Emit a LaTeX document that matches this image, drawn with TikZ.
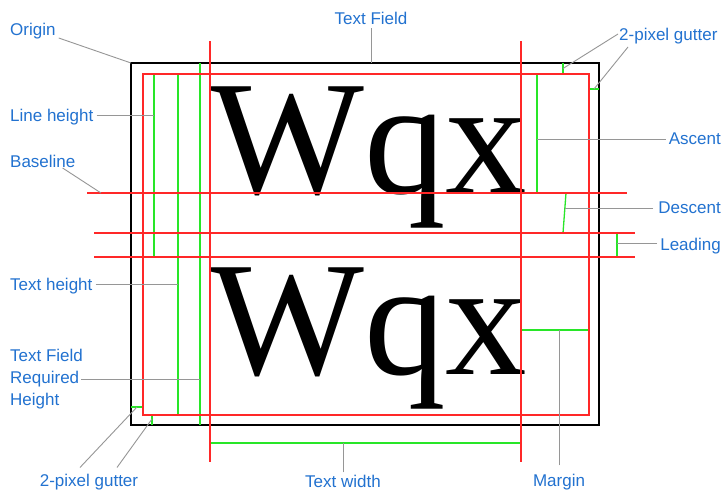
\documentclass[tikz,border=0pt]{standalone}
\usepackage{fontspec}
\setmainfont{Liberation Sans}
\newfontfamily\glyphfont{Liberation Serif}
\definecolor{labelblue}{RGB}{34,114,208}
\definecolor{guidered}{RGB}{255,40,40}
\definecolor{guidegreen}{RGB}{40,230,40}
\definecolor{leadergray}{RGB}{150,150,150}

\begin{document}
\begin{tikzpicture}[x=1pt,y=-1pt,
    lbl/.style={font=\fontsize{17}{22}\selectfont,text=labelblue,inner sep=0pt},
    glyphs/.style={font=\glyphfont\fontsize{163}{163}\selectfont,anchor=base west,inner sep=0pt},
    guide/.style={guidered,line width=1.2pt},
    measure/.style={guidegreen,line width=1.3pt},
    leader/.style={leadergray,line width=0.9pt}]
    \useasboundingbox[fill=white] (0,0) rectangle (723,490);
% Sample Text
    \node[glyphs] (lineone) at (210,193) {Wqx};
    \node[glyphs] (linetwo) at (210,374) {Wqx};
% Text Field
    \draw[line width=1.4pt] (131,63) coordinate (org) rectangle (599,425);
% Measures
    \draw[measure] (154,74) -- (154,257);
    \draw[measure] (178,74) -- (178,415);
    \draw[measure] (200,63) -- (200,425);
    \draw[measure] (537,74) -- (537,193);
    \draw[measure] (566,193) -- (563,233);
    \draw[measure] (617,233) -- (617,257);
    \draw[measure] (563,63) -- (563,74);
    \draw[measure] (589,89) -- (599,89);
    \draw[measure] (131,407) -- (143,407);
    \draw[measure] (152,415) -- (152,425);
    \draw[measure] (521,330) -- (589,330);
    \draw[measure] (210,443) -- (521,443);
% Guides
    \draw[guide] (143,74) rectangle (589,415);
    \draw[guide] (210,41) -- (210,462);
    \draw[guide] (521,41) -- (521,462);
    \draw[guide] (87,193) -- (627,193);
    \draw[guide] (94,233) -- (635,233);
    \draw[guide] (94,257) -- (635,257);
% Points
    \coordinate (lhpt) at (154,115);
    \coordinate (blpt) at (101,193);
    \coordinate (thpt) at (178,284);
    \coordinate (rqpt) at (200,379);
    \coordinate (tfpt) at (371,63);
    \coordinate (ascpt) at (537,139);
    \coordinate (despt) at (565,208);
    \coordinate (ldpt) at (617,243);
    \coordinate (gtpta) at (563,68.5);
    \coordinate (gtptb) at (594,89);
    \coordinate (gbpta) at (137,407);
    \coordinate (gbptb) at (152,419);
    \coordinate (twpt) at (343,443);
    \coordinate (mgpt) at (559,330);
% Labels
    \node[lbl,anchor=base west] (origin) at (10,35) {Origin};
    \node[lbl,anchor=base] (field) at (371,24) {Text Field};
    \node[lbl,anchor=base west] (guttertop) at (619,40) {2-pixel gutter};
    \node[lbl,anchor=base west] (lineheight) at (10,121) {Line height};
    \node[lbl,anchor=base west] (baseline) at (10,167) {Baseline};
    \node[lbl,anchor=base east] (ascent) at (721,144) {Ascent};
    \node[lbl,anchor=base east] (descent) at (721,213) {Descent};
    \node[lbl,anchor=base east] (leading) at (721,250) {Leading};
    \node[lbl,anchor=base west] (textheight) at (10,290) {Text height};
    \node[lbl,anchor=west,align=left] (required) at (10,379) {Text Field\\Required\\Height};
    \node[lbl,anchor=base] (gutterbot) at (89,486) {2-pixel gutter};
    \node[lbl,anchor=base] (textwidth) at (343,487) {Text width};
    \node[lbl,anchor=base] (margin) at (559,486) {Margin};
% Leaders
    \draw[leader] (origin.base east) ++(3,3) -- (org);
    \draw[leader] (field.south) ++(0,4) -- (tfpt);
    \draw[leader] (guttertop.base west) ++(-1,-6) -- (gtpta);
    \draw[leader] (guttertop.base west) ++(9,7) -- (gtptb);
    \draw[leader] (lineheight.east |- lhpt) ++(3,0) -- (lhpt);
    \draw[leader] (baseline.base east) ++(-13,1) -- (blpt);
    \draw[leader] (ascent.west |- ascpt) ++(-3,0) -- (ascpt);
    \draw[leader] (descent.west |- despt) ++(-5,0) -- (despt);
    \draw[leader] (leading.west |- ldpt) ++(-3,0) -- (ldpt);
    \draw[leader] (textheight.east |- thpt) ++(3,0) -- (thpt);
    \draw[leader] (required.east |- rqpt) ++(-2,0) -- (rqpt);
    \draw[leader] (gutterbot.north) ++(-9,-6) -- (gbpta);
    \draw[leader] (gutterbot.north) ++(28,-6) -- (gbptb);
    \draw[leader] (textwidth.north) ++(0,-2) -- (twpt);
    \draw[leader] (margin.north) ++(0,-8) -- (mgpt);
\end{tikzpicture}
\end{document}
